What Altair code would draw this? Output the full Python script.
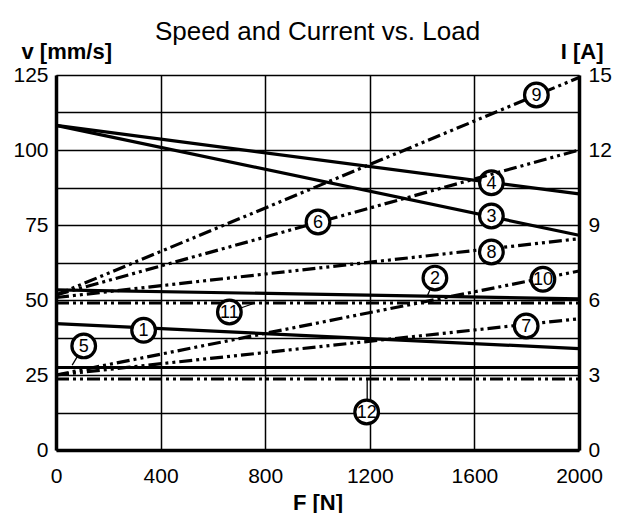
import altair as alt
import pandas as pd

# ---- data ----
F_ENDS = [0, 2000]

speed_ids = ["1", "2", "3", "4", "5"]
speed_v_start = [42.1, 53.4, 108.2, 108.2, 27.5]   # mm/s at F=0
speed_v_end = [33.8, 50.4, 71.6, 85.4, 27.5]       # mm/s at F=2000

current_ids = ["6", "7", "8", "9", "10", "11", "12"]
current_i_start = [6.2, 3.0, 6.1, 6.2, 3.0, 5.88, 2.84]   # A at F=0
current_i_end = [12.0, 5.25, 8.45, 14.9, 7.16, 5.88, 2.84]  # A at F=2000

speed_label_ids = ["1", "2", "3", "4", "5"]
speed_label_F = [335, 1449, 1665, 1665, 106]
speed_label_v = [39.9, 57.3, 78.0, 89.1, 34.7]

current_label_ids = ["6", "7", "8", "9", "10", "11", "12"]
current_label_F = [1002, 1798, 1665, 1837, 1862, 663, 1188]
current_label_i = [9.12, 4.96, 7.92, 14.2, 6.83, 5.52, 1.52]

# leader lines: label id, F from, value from, F to, value to
speed_leader_ids = ["5", "2"]
speed_leader_F0 = [106, 1449]
speed_leader_v0 = [34.7, 57.3]
speed_leader_F1 = [62, 1420]
speed_leader_v1 = [28.3, 51.3]

current_leader_ids = ["11", "12"]
current_leader_F0 = [663, 1190]
current_leader_i0 = [5.52, 1.52]
current_leader_F1 = [761, 1190]
current_leader_i1 = [5.88, 2.84]

x_ticks = [0, 400, 800, 1200, 1600, 2000]
v_grid = [0, 12.5, 25, 37.5, 50, 62.5, 75, 87.5, 100, 112.5, 125]
i_ticks = [0, 3, 6, 9, 12, 15]

# ---- tables ----
speed_df = pd.DataFrame(
    [{"id": k, "F": F_ENDS[0], "v": a} for k, a in zip(speed_ids, speed_v_start)]
    + [{"id": k, "F": F_ENDS[1], "v": b} for k, b in zip(speed_ids, speed_v_end)]
)
current_df = pd.DataFrame(
    [{"id": k, "F": F_ENDS[0], "i": a} for k, a in zip(current_ids, current_i_start)]
    + [{"id": k, "F": F_ENDS[1], "i": b} for k, b in zip(current_ids, current_i_end)]
)
speed_lab = pd.DataFrame({"id": speed_label_ids, "F": speed_label_F, "v": speed_label_v})
current_lab = pd.DataFrame({"id": current_label_ids, "F": current_label_F, "i": current_label_i})
speed_lead = pd.DataFrame({"id": speed_leader_ids, "F": speed_leader_F0, "v": speed_leader_v0,
                           "F2": speed_leader_F1, "v2": speed_leader_v1})
current_lead = pd.DataFrame({"id": current_leader_ids, "F": current_leader_F0, "i": current_leader_i0,
                             "F2": current_leader_F1, "i2": current_leader_i1})

FONT = "Liberation Sans, Arial, sans-serif"
DASH = [13, 4, 3, 4, 3, 4]
LW = 3.2

x_enc = alt.X(
    "F:Q",
    scale=alt.Scale(domain=[0, 2000], nice=False),
    axis=alt.Axis(
        values=x_ticks, format="d", grid=True, gridColor="black", gridWidth=1.5, gridOpacity=1,
        domainColor="black", domainWidth=3.5, ticks=False,
        labelFont=FONT, labelFontSize=21, labelColor="black", labelPadding=15,
        labelFlush=False,
        title="F [N]", titleFont=FONT, titleFontSize=22, titleFontWeight="bold",
        titleColor="black", titlePadding=6,
    ),
)

y_speed = alt.Y(
    "v:Q",
    scale=alt.Scale(domain=[0, 125], nice=False),
    axis=alt.Axis(
        values=v_grid, labelExpr="datum.value % 25 == 0 ? datum.label : ''",
        grid=True, gridColor="black", gridWidth=1.5, gridOpacity=1,
        domainColor="black", domainWidth=3.5, ticks=False,
        labelFont=FONT, labelFontSize=21, labelColor="black", labelPadding=8,
        labelFlush=False,
        title="v [mm/s]", titleFont=FONT, titleFontSize=22, titleFontWeight="bold",
        titleColor="black", titleAngle=0, titleAlign="left", titleBaseline="middle",
        titleX=-35, titleY=-24,
    ),
)

y_current = alt.Y(
    "i:Q",
    scale=alt.Scale(domain=[0, 15], nice=False),
    axis=alt.Axis(
        orient="right", values=i_ticks, grid=False,
        domainColor="black", domainWidth=3.5, ticks=False,
        labelFont=FONT, labelFontSize=21, labelColor="black", labelPadding=9,
        labelFlush=False,
        title="I [A]", titleFont=FONT, titleFontSize=22, titleFontWeight="bold",
        titleColor="black", titleAngle=0, titleAlign="right", titleBaseline="middle",
        titleX=24, titleY=-24,
    ),
)

speed_lines = alt.Chart(speed_df).mark_line(color="black", strokeWidth=LW, strokeCap="butt").encode(
    x=x_enc, y=y_speed, detail="id:N"
)
speed_leaders = alt.Chart(speed_lead).mark_rule(color="black", strokeWidth=1.3).encode(
    x=x_enc, y=y_speed, x2="F2:Q", y2="v2:Q"
)
speed_circles = alt.Chart(speed_lab).mark_point(
    shape="circle", filled=True, fill="white", stroke="black", strokeWidth=3.2, size=560, opacity=1
).encode(x=x_enc, y=y_speed)
speed_text = alt.Chart(speed_lab).mark_text(
    font=FONT, fontSize=18, color="black", baseline="middle", align="center", dy=1
).encode(x=x_enc, y=y_speed, text="id:N")

current_lines = alt.Chart(current_df).mark_line(
    color="black", strokeWidth=LW, strokeDash=DASH, strokeCap="butt"
).encode(x=x_enc, y=y_current, detail="id:N")
current_leaders = alt.Chart(current_lead).mark_rule(color="black", strokeWidth=1.3).encode(
    x=x_enc, y=y_current, x2="F2:Q", y2="i2:Q"
)
current_circles = alt.Chart(current_lab).mark_point(
    shape="circle", filled=True, fill="white", stroke="black", strokeWidth=3.2, size=560, opacity=1
).encode(x=x_enc, y=y_current)
current_text = alt.Chart(current_lab).mark_text(
    font=FONT, fontSize=18, color="black", baseline="middle", align="center", dy=1
).encode(x=x_enc, y=y_current, text="id:N")

speed_layer = alt.layer(speed_lines, speed_leaders, speed_circles, speed_text)
current_layer = alt.layer(current_lines, current_leaders, current_circles, current_text)

chart = (
    alt.layer(speed_layer, current_layer)
    .resolve_scale(y="independent")
    .properties(
        width=523, height=375,
        title=alt.Title("Speed and Current vs. Load", font=FONT, fontSize=26,
                        fontWeight="normal", color="black", anchor="middle", offset=-5),
        padding={"left": 4, "right": 0, "top": 11, "bottom": 0},
        background="white",
    )
    .configure_view(stroke=None)
)

chart.save("out.html", embed_options={"renderer": "svg", "actions": False})
